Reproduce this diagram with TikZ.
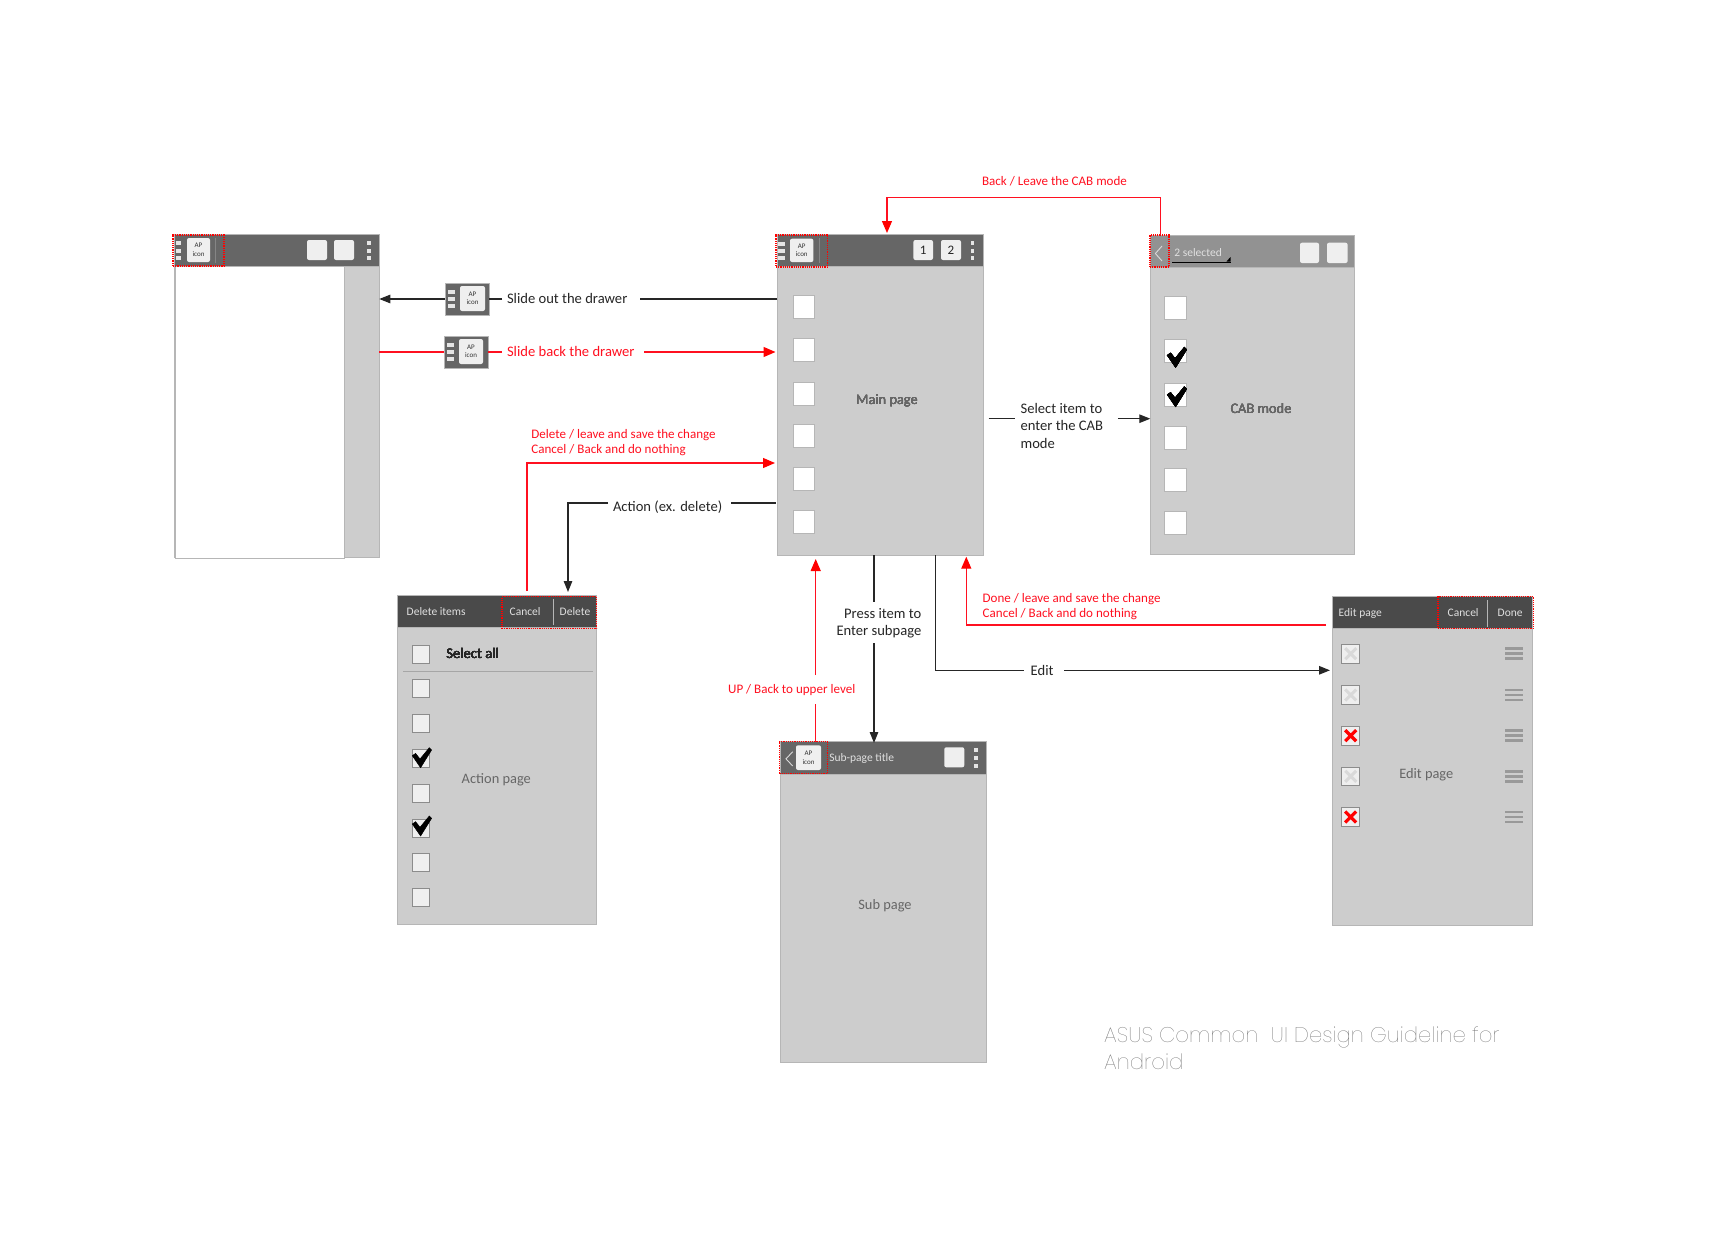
\documentclass[tikz,border=0pt]{standalone}
\usepackage{fontspec}
\setmainfont{Carlito}
\newfontfamily\thinf{Poppins Thin}
\usetikzlibrary{fit,arrows.meta}
\definecolor{body}{HTML}{CDCDCD}
\definecolor{edge}{HTML}{B6B6B6}
\definecolor{barA}{HTML}{666666}
\definecolor{barB}{HTML}{4A4A4A}
\definecolor{barC}{HTML}{929292}
\definecolor{soft}{HTML}{EFEFEF}
\definecolor{lbl}{HTML}{666666}
\definecolor{redl}{HTML}{FF1020}
\tikzset{
 bx/.style={inner sep=0pt,outer sep=0pt},
 pagebody/.style={bx,fill=body,draw=edge,line width=1pt},
 pagewhite/.style={bx,fill=white,draw=edge,line width=1pt},
 tbarA/.style={bx,fill=barA,draw=edge,line width=.8pt},
 tbarB/.style={bx,fill=barB,draw=edge,line width=.8pt},
 tbarC/.style={bx,fill=barC,draw=edge,line width=.8pt},
 hotspot/.style={bx,draw=red,line width=1.2pt,densely dotted},
 iconbox/.style={bx,fill=soft,rounded corners=2pt},
 btnbox/.style={bx,fill=soft,rounded corners=2pt},
 sqwhite/.style={bx,fill=white,draw=edge,line width=.9pt},
 sqsoft/.style={bx,fill=soft,draw=black!45,line width=.8pt},
 blk/.style={line width=1.2pt,black!85},
 rdl/.style={line width=1.2pt,redl},
 blka/.style={blk,-{Triangle[length=11pt,width=8.5pt]}},
 rdla/.style={rdl,-{Triangle[length=12pt,width=10pt,color=red]}},
 tb/.style={inner sep=0pt,outer sep=0pt,anchor=west,font=\fontsize{14.6}{17}\selectfont,text=black!85},
 tr/.style={inner sep=0pt,outer sep=0pt,anchor=west,font=\fontsize{13.05}{16}\selectfont,text=redl},
 tg/.style={inner sep=0pt,outer sep=0pt,font=\fontsize{14.4}{17}\selectfont,text=lbl},
 tw/.style={inner sep=0pt,outer sep=0pt,anchor=west,font=\fontsize{11.5}{14}\selectfont,text=black!12},
 tap/.style={inner sep=0pt,outer sep=0pt,align=center,font=\fontsize{7}{8.5}\selectfont,text=black!80},
}
\newcommand\bxn[6]{\node[fit={(#3,#4)(#5,#6)},#1] (#2) {};}
\newcommand\apn[5]{\bxn{iconbox}{#1}{#2}{#3}{#4}{#5}\node[tap] (#1t) at (#1.center) {AP\\icon};}
\newcommand\mbars[5]{\foreach \yy in {#3,#4,#5} \fill[white!90!black] (#1,\yy-1.8) rectangle (#2,\yy+1.8);}
\newcommand\dotcol[2]{\foreach \yy in {#2} \fill[white!90!black] (#1-1.8,\yy-1.8) rectangle (#1+1.8,\yy+1.8);}
\newcommand\chk[2]{\filldraw[black,line width=.5pt,shift={(#1,#2)}] (0,8)--(3.3,5.7)--(7.7,11.3)--(17,0)--(19.3,2.3)--(8.3,20)--cycle;}
\newcommand\chev[4]{\draw[white!85!black,line width=.9pt] (#2,#3)--(#1,{(#3+#4)/2})--(#2,#4);}
\newcommand\xmark[4]{\draw[#3,line width=#4] (#1-5.5,#2-5.5)--(#1+5.5,#2+5.5) (#1-5.5,#2+5.5)--(#1+5.5,#2-5.5);}
\begin{document}
\begin{tikzpicture}[x=1pt,y=-1pt]
\useasboundingbox (0,0) rectangle (1714,1244);
\fill[white] (0,0) rectangle (1714,1244);
% ---- drawer screen
\bxn{pagebody}{drawer}{174.5}{234}{379.3}{557}
\bxn{tbarA}{drawerbar}{174.5}{234}{379.3}{266}
\bxn{pagewhite}{drawerwhite}{175}{266}{344.3}{558}
\mbars{175.5}{181}{243}{251}{258}
\apn{dapi}{187}{238}{210}{262}
\draw[black!48,line width=.8pt] (215,238)--(215,263);
\bxn{btnbox}{db1}{307}{240}{327}{260}
\bxn{btnbox}{db2}{334}{240}{354}{260}
\dotcol{369}{243,251,258}
\bxn{hotspot}{dhot}{173}{235}{224}{266}
% ---- drawer icons
\bxn{tbarA}{iconA}{445}{283}{489}{315}
\mbars{448}{455}{292}{299}{306}
\apn{iconAi}{460}{286}{485}{311}
\bxn{tbarA}{iconB}{444}{336}{488}{368}
\mbars{447}{454}{345}{352}{359}
\apn{iconBi}{459}{339}{483}{364}
% ---- main page
\bxn{pagebody}{main}{777.4}{234}{983.4}{555}
\bxn{tbarA}{mainbar}{777.4}{234}{983.4}{266.7}
\mbars{778}{784.5}{244}{250.7}{257.7}
\apn{mapi}{790}{238.7}{813.4}{262}
\draw[black!48,line width=.8pt] (819.3,238)--(819.3,263);
\bxn{btnbox}{mb1}{913.4}{240}{933}{260}
\bxn{btnbox}{mb2}{941}{240}{961}{260}
\node[inner sep=0pt,font=\fontsize{13}{15}\selectfont,text=black!85] (mb1t) at (mb1.center) {1};
\node[inner sep=0pt,font=\fontsize{13}{15}\selectfont,text=black!85] (mb2t) at (mb2.center) {2};
\dotcol{972.3}{243,250.7,258}
\bxn{hotspot}{mhot}{776}{235}{827.6}{267}
\foreach \i/\yy in {1/307,2/350.3,3/393.7,4/436.3,5/479,6/522}
  \bxn{sqwhite}{ms\i}{793.6}{\yy-11.5}{814.6}{\yy+11.5}
\node[tg] (maint) at (887,400.5) {Main page};
% ---- CAB
\bxn{pagebody}{cab}{1150.3}{235.7}{1354.3}{554}
\bxn{tbarC}{cabbar}{1150.3}{235.7}{1354.3}{267.3}
\chev{1155.4}{1162}{246}{261}
\node[tw] (cabsel) at (1174.4,253) {2 selected};
\draw[black,line width=.9pt] (1172,262)--(1230.5,262);
\fill[black] (1230.5,257)--(1230.5,261.5)--(1226.5,261.5)--cycle;
\bxn{btnbox}{cb1}{1300}{242.7}{1319}{263}
\bxn{btnbox}{cb2}{1327}{242.7}{1347.6}{263}
\bxn{hotspot}{chot}{1150}{235}{1169}{267}
\foreach \i/\yy in {1/308,2/351.3,3/394.7,4/437.7,5/480.3,6/523}
  \bxn{sqwhite}{cs\i}{1164.5}{\yy-11.5}{1186}{\yy+11.5}
\chk{1167.3}{347.3}
\chk{1167.3}{386.7}
\node[tg] (cabt) at (1261,408.5) {CAB mode};
% ---- Action page
\bxn{pagebody}{act}{397.3}{595.7}{596.7}{924.3}
\bxn{tbarB}{actbar}{397.3}{595.7}{596.7}{627}
\node[tw] (actt) at (406.7,611.3) {Delete items};
\node[tw] (actc) at (509.7,611.7) {Cancel};
\node[tw] (actd) at (559.7,611.7) {Delete};
\draw[edge,line width=.9pt] (553,599)--(553,625);
\bxn{hotspot}{ahot}{502}{596.7}{596.7}{628.7}
\foreach \i/\yy in {1/654,2/688.7,3/723.7,4/758.3,5/793,6/828,7/862.7,8/897}
  \bxn{sqsoft}{as\i}{412.3}{\yy-9}{429}{\yy+9}
\node[tb] (sall) at (446.3,653.7) {Select all};
\draw[black!35,line width=.8pt] (403.3,671.3)--(593.3,671.3);
\chk{412.3}{747.7}
\chk{412.3}{816}
\node[tg] (actp) at (496.3,779.3) {Action page};
% ---- Sub page
\bxn{pagebody}{sub}{780.7}{741.7}{986.7}{1062.5}
\bxn{tbarA}{subbar}{780.7}{741.7}{986.7}{774}
\chev{786}{792.7}{751.7}{766}
\apn{sapi}{796}{745.3}{821}{770}
\node[tw] (subtt) at (829.3,758) {Sub-page title};
\bxn{btnbox}{sb1}{944.3}{747.3}{964.3}{767.3}
\dotcol{975.7}{750,757.7,765.7}
\bxn{hotspot}{shot}{779.3}{741.7}{827.7}{773.3}
\node[tg] (subt) at (885,906) {Sub page};
% ---- Edit page
\bxn{pagebody}{edit}{1332}{596.7}{1532.7}{925.3}
\bxn{tbarB}{editbar}{1332}{596.7}{1532.7}{628.3}
\node[tw] (edtt) at (1338.7,613) {Edit page};
\node[tw] (edtc) at (1447.7,612.7) {Cancel};
\node[tw] (edtd) at (1497.7,612.7) {Done};
\draw[edge,line width=.9pt] (1487.7,600)--(1487.7,626.7);
\bxn{hotspot}{ehot}{1438}{596.7}{1533.3}{628.7}
\foreach \i/\yy in {1/653.7,2/695,3/735.7,4/776.3,5/817}{
  \bxn{sqsoft}{es\i}{1341.7}{\yy-9.3}{1359.7}{\yy+9.3}
  \foreach \dd in {-5,0,5} \fill[black!40] (1505,\yy+\dd-1.4) rectangle (1522.7,\yy+\dd+1.4);
}
\xmark{1350.7}{653.7}{black!15}{3pt}
\xmark{1350.7}{695}{black!15}{3pt}
\xmark{1350.7}{735.7}{red}{3.2pt}
\xmark{1350.7}{776.3}{black!15}{3pt}
\xmark{1350.7}{817}{red}{3.2pt}
\node[tg] (editp) at (1426.3,775.2) {Edit page};
% ---- labels
\node[tb] (lso) at (507,298) {Slide out the drawer};
\node[tb,text=redl] (lsb) at (507,351.5) {Slide back the drawer};
\node[tr] (ld1) at (531.4,435) {Delete / leave and save the change};
\node[tr] (ld2) at (531.4,450) {Cancel / Back and do nothing};
\node[tb] (lact) at (613,507) {Action (ex. delete)};
\node[tr,anchor=center] (lback) at (1054.5,181) {Back / Leave the CAB mode};
\node[tb,align=left,font=\fontsize{14.6}{17.3}\selectfont] (lsel) at (1020.6,425.7) {Select item to\\enter the CAB\\mode};
\node[tb,anchor=east,align=right,font=\fontsize{14.6}{17.3}\selectfont] (lpress) at (921.3,623.3) {Press item to\\Enter subpage};
\node[tr,anchor=center] (lup) at (791.7,690) {UP / Back to upper level};
\node[tr] (ldn1) at (982.7,599.2) {Done / leave and save the change};
\node[tr] (ldn2) at (982.7,614.5) {Cancel / Back and do nothing};
\node[tb] (ledit) at (1030.7,670) {Edit};
\node[anchor=north west,inner sep=0pt,align=left,font=\thinf\fontsize{21.2}{27}\selectfont,text=black!60] (foot) at (1104,1026.5) {ASUS Common\ \ UI Design Guideline for\\Android};
% ---- connectors
\coordinate (so1) at (640,299);
\coordinate (so2) at (502,299);
\draw[blk] (main.west |- so1) -- (so1);
\draw[blk] (so2) -- (iconA.east |- so2);
\draw[blka] (iconA.west |- so2) -- (drawer.east |- so2);
\coordinate (sb1) at (502,352);
\coordinate (sb2) at (644,352);
\draw[rdl] (drawer.east |- sb1) -- (iconB.west |- sb1);
\draw[rdl] (iconB.east |- sb1) -- (sb1);
\draw[rdla] (sb2) -- (775.5,352);
\coordinate (dl) at (527,463);
\draw[rdla] (527,591) -- (dl) -- (775,463);
\coordinate (ac1) at (608,503);
\coordinate (ac2) at (731,503);
\coordinate (ac3) at (568,503);
\draw[blka] (ac1) -- (ac3) -- (568,592);
\draw[blk] (ac2) -- (775.5,503);
\coordinate (bk) at (887,197.7);
\draw[rdla] (1160.5,235) -- (1160.5,197.7) -- (bk) -- (887,233);
\coordinate (se1) at (1015.4,418.7);
\coordinate (se2) at (1117.9,418.7);
\draw[blk] (988.5,418.7) -- (se1);
\draw[blka] (se2) -- (cab.west |- se2);
\coordinate (up1) at (815.7,675);
\coordinate (up2) at (815.7,704);
\draw[rdla] (up1) -- (815.7,559);
\draw[rdl] (up2) -- (815.7,741.7);
\coordinate (pr1) at (874,601.7);
\coordinate (pr2) at (874,643.3);
\draw[blk] (874,555) -- (pr1);
\draw[blka] (pr2) -- (874,743);
\coordinate (ed1) at (1024.3,670.3);
\coordinate (ed2) at (1064,670.3);
\draw[blk] (935.5,555) -- (935.5,670.3) -- (ed1);
\draw[blka] (ed2) -- (1330,670.3);
\coordinate (dn) at (966.3,625);
\draw[rdla] (1326,625) -- (dn) -- (966.3,556.7);
\end{tikzpicture}
\end{document}
